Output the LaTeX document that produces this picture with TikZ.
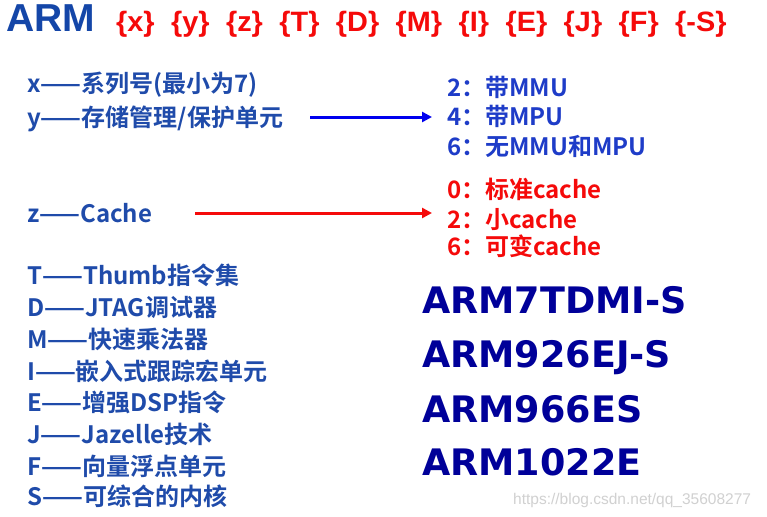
\documentclass[tikz,border=0pt]{standalone}
\usepackage{fontspec}
\setmainfont{Liberation Sans}
\newfontfamily\cjkb{Noto Sans CJK SC Bold}
\newfontfamily\dvsans{DejaVu Sans}
\usetikzlibrary{arrows.meta}
\definecolor{titleblue}{HTML}{1446A8}
\definecolor{leftblue}{HTML}{1F4BAA}
\definecolor{rblue}{HTML}{1E3CC8}
\definecolor{navy}{HTML}{000099}
\definecolor{arrblue}{HTML}{0000EE}
\definecolor{myred}{HTML}{F50A0A}
\begin{document}
\begin{tikzpicture}[x=1pt,y=-1pt,
  lt/.style={anchor=base west, inner sep=0pt, font=\cjkb\fontsize{24}{24}\selectfont, text=leftblue},
  rb/.style={lt, text=rblue},
  rr/.style={lt, text=myred},
  model/.style={anchor=base west, inner sep=0pt, font=\dvsans\bfseries\fontsize{36.5}{36.5}\selectfont, text=navy},
  conn/.style={line width=3pt, -{Triangle[length=10pt,width=10pt]}}]
\fill[white] (0,0) rectangle (767,516);
\useasboundingbox (0,0) rectangle (767,516);
% title
\node[anchor=base west, inner sep=0pt, font=\bfseries\fontsize{39}{39}\selectfont, text=titleblue] (arm) at (6,32) {ARM};
\node[anchor=base west, inner sep=0pt, font=\bfseries\fontsize{28}{28}\selectfont, text=myred, xscale=1.03] (code) at (116,32)
  {\{x\}\hspace{16pt}\{y\}\hspace{16pt}\{z\}\hspace{16pt}\{T\}\hspace{16pt}\{D\}\hspace{16pt}\{M\}\hspace{16pt}\{I\}\hspace{16pt}\{E\}\hspace{16pt}\{J\}\hspace{16pt}\{F\}\hspace{16pt}\{-S\}};
% left list
\node[lt] (xlab) at (27,93)  {x——系列号(最小为7)};
\node[lt] (ylab) at (27,126) {y——存储管理/保护单元};
\node[lt] (zlab) at (27,222) {z——Cache};
\node[lt] (tlab) at (27,284) {T——Thumb指令集};
\node[lt] (dlab) at (27,316) {D——JTAG调试器};
\node[lt] (mlab) at (27,348) {M——快速乘法器};
\node[lt] (ilab) at (27,380) {I——嵌入式跟踪宏单元};
\node[lt] (elab) at (27,411) {E——增强DSP指令};
\node[lt] (jlab) at (27,443) {J——Jazelle技术};
\node[lt] (flab) at (27,475) {F——向量浮点单元};
\node[lt] (slab) at (27,505) {S——可综合的内核};
% right lists
\node[rb] (b2) at (447,96)  {2：带MMU};
\node[rb] (b4) at (447,125) {4：带MPU};
\node[rb] (b6) at (447,155) {6：无MMU和MPU};
\node[rr] (c0) at (447,198) {0：标准cache};
\node[rr] (c2) at (447,228) {2：小cache};
\node[rr] (c6) at (447,255) {6：可变cache};
% models
\node[model] (m1) at (422,313) {ARM7TDMI-S};
\node[model] (m2) at (422,367) {ARM926EJ-S};
\node[model] (m3) at (422,422) {ARM966ES};
\node[model] (m4) at (422,475) {ARM1022E};
% watermark
\node[anchor=base west, inner sep=0pt, font=\fontsize{15.5}{15.5}\selectfont, text=black!18] (wm) at (513,504) {https://blog.csdn.net/qq\_35608277};
% arrows
\draw[conn, arrblue] ([xshift=27pt,yshift=9pt]ylab.base east) -- ([xshift=-15pt,yshift=8pt]b4.base west);
\draw[conn, myred] ([xshift=43pt,yshift=9pt]zlab.base east) -- ([xshift=-15pt,yshift=15pt]c2.base west);
\end{tikzpicture}
\end{document}
